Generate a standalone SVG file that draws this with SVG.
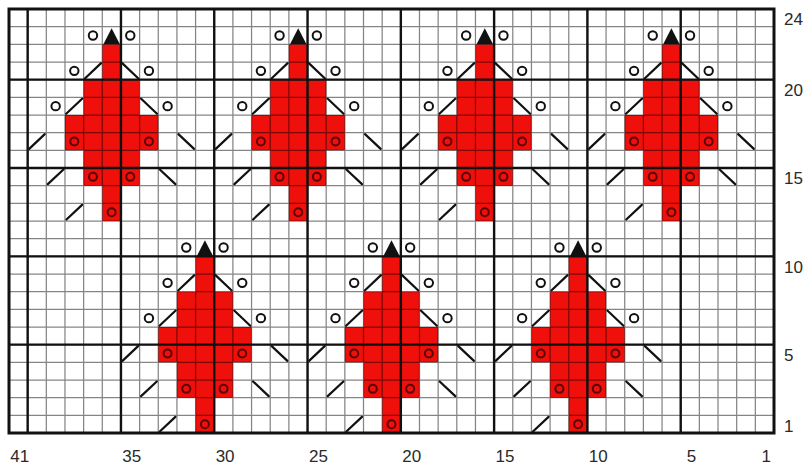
<svg xmlns="http://www.w3.org/2000/svg" width="809" height="472" viewBox="0 0 809 472">
<style>
.red{fill:#ef0f0b}
.thin{fill:none;stroke:#000;stroke-opacity:.48;stroke-width:1.25}
.thick{fill:none;stroke:#111;stroke-width:2.4}
.border{fill:none;stroke:#111;stroke-width:3}
.open{fill:#fff;stroke:#111;stroke-width:2}
.dot{fill:none;stroke:#5a0505;stroke-width:2}
.diag{stroke:#111;stroke-width:2.2;stroke-linecap:round}
.lbl{font-family:"Liberation Sans",Arial,sans-serif;font-size:17px;fill:#2a2a2a}
</style>
<defs>
<polygon id="motif-fill" class="red" points="0,17.67 18.66,17.67 18.66,53 37.32,53 37.32,88.33 55.98,88.33 55.98,123.67 37.32,123.67 37.32,159 18.66,159 18.66,194.33 0,194.33 0,159 -18.66,159 -18.66,123.67 -37.32,123.67 -37.32,88.33 -18.66,88.33 -18.66,53 0,53"/>
<g id="motif-marks">
<polygon points="9.33,1.5 17.6,17.67 1.1,17.67" fill="#111"/>
<circle class="open" cx="-9.33" cy="8.83" r="4.2"/>
<circle class="open" cx="27.99" cy="8.83" r="4.2"/>
<circle class="open" cx="-27.99" cy="44.17" r="4.2"/>
<circle class="open" cx="46.65" cy="44.17" r="4.2"/>
<circle class="open" cx="-46.65" cy="79.5" r="4.2"/>
<circle class="open" cx="65.31" cy="79.5" r="4.2"/>
<circle class="dot" cx="-27.99" cy="114.83" r="4"/>
<circle class="dot" cx="46.65" cy="114.83" r="4"/>
<circle class="dot" cx="-9.33" cy="150.17" r="4"/>
<circle class="dot" cx="27.99" cy="150.17" r="4"/>
<circle class="dot" cx="9.33" cy="185.5" r="4"/>
<line class="diag" x1="-17.4" y1="51.8" x2="-1.2" y2="36.5"/>
<line class="diag" x1="19.9" y1="36.5" x2="36.1" y2="51.8"/>
<line class="diag" x1="-36.1" y1="87.1" x2="-19.9" y2="71.9"/>
<line class="diag" x1="38.6" y1="71.9" x2="54.7" y2="87.1"/>
<line class="diag" x1="-73.1" y1="122.2" x2="-57.5" y2="107.5"/>
<line class="diag" x1="76.1" y1="107.5" x2="91.8" y2="122.2"/>
<line class="diag" x1="-54.5" y1="157.5" x2="-38.8" y2="142.8"/>
<line class="diag" x1="57.5" y1="142.8" x2="73.1" y2="157.5"/>
<line class="diag" x1="-35.8" y1="192.8" x2="-20.2" y2="178.2"/>
</g>
</defs>
<rect x="0" y="0" width="809" height="472" fill="#fff"/>
<g id="fills">
<use href="#motif-fill" transform="translate(102.29,26.67)"/>
<use href="#motif-fill" transform="translate(288.88,26.67)"/>
<use href="#motif-fill" transform="translate(475.46,26.67)"/>
<use href="#motif-fill" transform="translate(662.05,26.67)"/>
<use href="#motif-fill" transform="translate(195.59,238.67)"/>
<use href="#motif-fill" transform="translate(382.17,238.67)"/>
<use href="#motif-fill" transform="translate(568.76,238.67)"/>
</g>
<g id="grid">
<path class="thin" d="M27.66 9V433M46.32 9V433M64.98 9V433M83.63 9V433M102.29 9V433M120.95 9V433M139.61 9V433M158.27 9V433M176.93 9V433M195.59 9V433M214.24 9V433M232.9 9V433M251.56 9V433M270.22 9V433M288.88 9V433M307.54 9V433M326.19 9V433M344.85 9V433M363.51 9V433M382.17 9V433M400.83 9V433M419.49 9V433M438.15 9V433M456.8 9V433M475.46 9V433M494.12 9V433M512.78 9V433M531.44 9V433M550.1 9V433M568.76 9V433M587.41 9V433M606.07 9V433M624.73 9V433M643.39 9V433M662.05 9V433M680.71 9V433M699.37 9V433M718.02 9V433M736.68 9V433M755.34 9V433M9 26.67H774M9 44.33H774M9 62H774M9 79.67H774M9 97.33H774M9 115H774M9 132.67H774M9 150.33H774M9 168H774M9 185.67H774M9 203.33H774M9 221H774M9 238.67H774M9 256.33H774M9 274H774M9 291.67H774M9 309.33H774M9 327H774M9 344.67H774M9 362.33H774M9 380H774M9 397.67H774M9 415.33H774"/>
<path class="thick" d="M27.66 9V433M120.95 9V433M214.24 9V433M307.54 9V433M400.83 9V433M494.12 9V433M587.41 9V433M680.71 9V433M9 79.67H774M9 168H774M9 256.33H774M9 344.67H774"/>
<rect class="border" x="9" y="9" width="765" height="424"/>
</g>
<g id="motifs">
<g id="motif-top-1"><use href="#motif-marks" transform="translate(102.29,26.67)"/></g>
<g id="motif-top-2"><use href="#motif-marks" transform="translate(288.88,26.67)"/></g>
<g id="motif-top-3"><use href="#motif-marks" transform="translate(475.46,26.67)"/></g>
<g id="motif-top-4"><use href="#motif-marks" transform="translate(662.05,26.67)"/></g>
<g id="motif-bottom-1"><use href="#motif-marks" transform="translate(195.59,238.67)"/></g>
<g id="motif-bottom-2"><use href="#motif-marks" transform="translate(382.17,238.67)"/></g>
<g id="motif-bottom-3"><use href="#motif-marks" transform="translate(568.76,238.67)"/></g>
</g>
<g id="labels" class="lbl">
<g text-anchor="middle">
<text x="19.8" y="461.5">41</text>
<text x="131.8" y="461.5">35</text>
<text x="225.1" y="461.5">30</text>
<text x="318.4" y="461.5">25</text>
<text x="411.7" y="461.5">20</text>
<text x="505" y="461.5">15</text>
<text x="598.3" y="461.5">10</text>
<text x="691.6" y="461.5">5</text>
<text x="766.2" y="461.5">1</text>
</g>
<text x="784" y="25.2">24</text>
<text x="784" y="95.8">20</text>
<text x="784" y="184.2">15</text>
<text x="784" y="272.5">10</text>
<text x="784" y="360.8">5</text>
<text x="784" y="431.5">1</text>
</g>
</svg>
